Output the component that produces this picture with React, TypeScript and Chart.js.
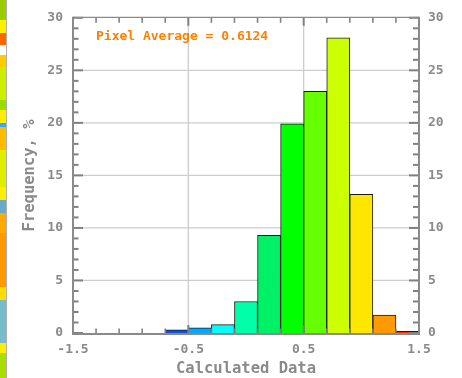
import { useEffect, useRef } from "react";
import { Chart, registerables } from "chart.js";

Chart.register(...registerables);

// ---- data ----
const binCenters = [-0.6, -0.4, -0.2, 0.0, 0.2, 0.4, 0.6, 0.8, 1.0, 1.2, 1.4];
const frequencies = [0.3, 0.5, 0.8, 3.0, 9.3, 19.9, 23.0, 28.1, 13.2, 1.7, 0.15];
const binColors = [
  "#0a50e6", "#00a8ff", "#00ffff", "#00ffa8", "#00f066", "#00ff00",
  "#66ff00", "#ccff00", "#ffe600", "#ff9900", "#ff3300",
];
const xTickValues = [-1.5, -0.5, 0.5, 1.5];
const yTickValues = [0, 5, 10, 15, 20, 25, 30];
const xTitle = "Calculated Data";
const yTitle = "Frequency, %";
const averageLabel = "Pixel Average = 0.6124";

// ---- styles ----
const axisGray = "#8a8a8a";
const tickGray = "#808080";
const gridGray = "#cdcdcd";
const mono = "'DejaVu Sans Mono', 'Liberation Mono', monospace";

const stripGradient =
  "linear-gradient(to bottom," +
  "#9acd00 0px,#9acd00 20px,#ffee00 20px,#ffee00 33px,#ff6600 33px,#ff6600 45px," +
  "#ffffff 45px,#ffffff 55px,#ffcc00 55px,#ffcc00 67px,#ccee00 67px,#ccee00 100px," +
  "#99dd00 100px,#99dd00 110px,#ffee00 110px,#ffee00 123px,#33aaff 123px,#33aaff 127px," +
  "#ffbb00 127px,#ffbb00 150px,#ddee00 150px,#ddee00 187px,#ffee00 187px,#ffee00 200px," +
  "#66aacc 200px,#66aacc 213px,#ffaa00 213px,#ffaa00 233px,#ff9900 233px,#ff9900 287px," +
  "#ffdd00 287px,#ffdd00 300px,#77bbcc 300px,#77bbcc 343px,#ffee00 343px,#ffee00 353px," +
  "#aadd00 353px,#aadd00 378px)";

const drawLine = (ctx: any, x1: number, y1: number, x2: number, y2: number) => {
  ctx.beginPath();
  ctx.moveTo(x1, y1);
  ctx.lineTo(x2, y2);
  ctx.stroke();
};

const framePlugin = {
  id: "idlFrame",
  beforeDatasetsDraw(chart: any) {
    const { ctx, chartArea: a, scales } = chart;
    const xs = scales.x;
    const ys = scales.y;
    ctx.save();
    ctx.strokeStyle = gridGray;
    ctx.lineWidth = 1.3;
    yTickValues.forEach((v) => {
      if (v === ys.min || v === ys.max) return;
      const py = ys.getPixelForValue(v);
      drawLine(ctx, a.left, py, a.right, py);
    });
    xTickValues.forEach((v) => {
      if (v === xs.min || v === xs.max) return;
      const px = xs.getPixelForValue(v);
      drawLine(ctx, px, a.top, px, a.bottom);
    });
    ctx.restore();
  },
  afterDatasetsDraw(chart: any) {
    const { ctx, chartArea: a, scales } = chart;
    const xs = scales.x;
    const ys = scales.y;
    const line = (x1: number, y1: number, x2: number, y2: number) => drawLine(ctx, x1, y1, x2, y2);
    ctx.save();
    ctx.strokeStyle = tickGray;
    // y ticks: minor every 1, major every 5
    for (let v = 0; v <= 30; v += 1) {
      const py = ys.getPixelForValue(v);
      const major = v % 5 === 0;
      ctx.lineWidth = 2;
      line(a.left, py, a.left + (major ? 10 : 5.5), py);
      line(a.right, py, a.right - (major ? 10 : 6), py);
    }
    // x ticks: minor every 0.2, major at labelled values
    for (let k = 0; k <= 15; k++) {
      const v = -1.5 + k * 0.2;
      const px = xs.getPixelForValue(v);
      const major = k % 5 === 0;
      ctx.lineWidth = major ? 2 : 1.6;
      line(px, a.top, px, a.top + (major ? 8 : 5));
      line(px, a.bottom, px, a.bottom - (major ? 8 : 4.5));
    }
    // frame
    ctx.strokeStyle = axisGray;
    ctx.lineWidth = 1.2;
    line(a.left, a.top - 0.5, a.right, a.top - 0.5);
    ctx.lineWidth = 2;
    line(a.right, a.top - 1, a.right, a.bottom + 2);
    line(a.left, a.top - 1, a.left, a.bottom + 2);
    line(a.left - 1, a.bottom + 1, a.right + 1, a.bottom + 1);

    // annotation
    ctx.fillStyle = "#ff8000";
    ctx.font = `bold 13px ${mono}`;
    ctx.textAlign = "left";
    ctx.textBaseline = "middle";
    ctx.fillText(averageLabel, a.left + 23, a.top + 18.5);
    ctx.restore();
  },
};

export default function App() {
  const ref = useRef<HTMLCanvasElement>(null);

  useEffect(() => {
    document.body.style.margin = "0";
    const canvas = ref.current;
    if (!canvas) return;
    const tickFont = { family: mono, size: 13, weight: "bold" as const };
    const titleFont = { family: mono, size: 15.5, weight: "bold" as const };
    const chart = new Chart(canvas, {
      type: "bar",
      data: {
        datasets: [
          {
            data: binCenters.map((x, i) => ({ x, y: frequencies[i] })),
            backgroundColor: binColors,
            borderColor: "#1c1c1c",
            borderWidth: 1,
            barPercentage: 1,
            categoryPercentage: 1,
            yAxisID: "y",
          },
        ],
      },
      plugins: [framePlugin],
      options: {
        animation: false,
        responsive: false,
        devicePixelRatio: 1,
        layout: { padding: { top: 10, left: 0, right: 0, bottom: 0 } },
        plugins: { legend: { display: false }, tooltip: { enabled: false } },
        scales: {
          x: {
            type: "linear",
            min: -1.5,
            max: 1.5,
            offset: false,
            grid: { display: false, drawTicks: false },
            border: { display: false },
            afterBuildTicks: (s: any) => {
              s.ticks = xTickValues.map((value) => ({ value }));
            },
            afterFit: (s: any) => {
              s.height = 45;
            },
            ticks: {
              color: axisGray,
              font: tickFont,
              padding: 9,
              autoSkip: false,
              maxRotation: 0,
              callback: (v: any) => Number(v).toFixed(1),
            },
            title: {
              display: true,
              text: xTitle,
              color: axisGray,
              font: titleFont,
              padding: { top: 0, bottom: 0 },
            },
          },
          y: {
            type: "linear",
            position: "left",
            min: 0,
            max: 30,
            grid: { display: false, drawTicks: false },
            border: { display: false },
            afterBuildTicks: (s: any) => {
              s.ticks = yTickValues.map((value) => ({ value }));
            },
            afterFit: (s: any) => {
              s.width = 73;
            },
            ticks: { color: axisGray, font: tickFont, padding: 10 },
            title: {
              display: true,
              text: yTitle,
              color: axisGray,
              font: titleFont,
              padding: { top: 21, bottom: 0 },
            },
          },
          y2: {
            type: "linear",
            position: "right",
            min: 0,
            max: 30,
            grid: { display: false, drawTicks: false },
            border: { display: false },
            afterBuildTicks: (s: any) => {
              s.ticks = yTickValues.map((value) => ({ value }));
            },
            afterFit: (s: any) => {
              s.width = 43;
            },
            ticks: { color: axisGray, font: tickFont, padding: 9 },
          },
        },
      },
    } as any);
    return () => chart.destroy();
  }, []);

  return (
    <div style={{ position: "relative", width: 462, height: 378, background: "#ffffff" }}>
      <div
        style={{
          position: "absolute",
          left: 0,
          top: 0,
          width: 6,
          height: 378,
          background: stripGradient,
        }}
      />
      <div
        style={{
          position: "absolute",
          left: 6,
          top: 0,
          width: 1,
          height: 378,
          background: "#b0b0b0",
        }}
      />
      <canvas
        ref={ref}
        width={462}
        height={378}
        style={{ position: "absolute", left: 0, top: 0, display: "block", width: 462, height: 378 }}
      />
    </div>
  );
}
